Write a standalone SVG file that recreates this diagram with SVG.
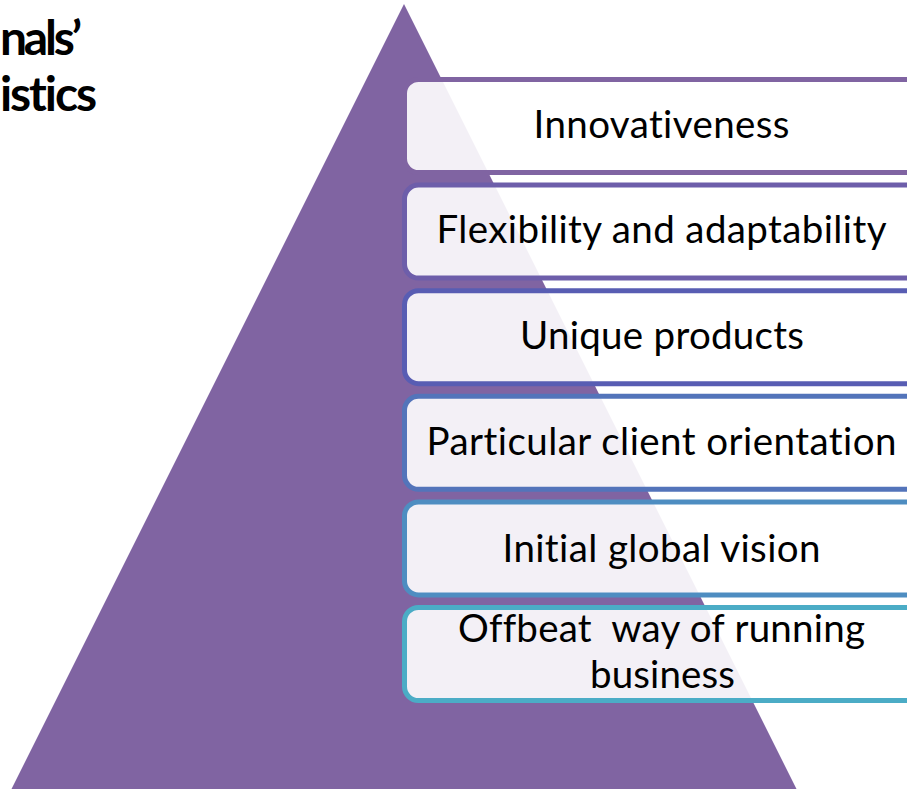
<svg xmlns="http://www.w3.org/2000/svg" width="907" height="789" viewBox="0 0 907 789">
  <style>
    .title { font-family: Lato, "Liberation Sans", sans-serif; font-weight: bold; font-size: 48px; fill: #000; font-variant-ligatures: none; }
    .box { fill: #ffffff; fill-opacity: 0.9; stroke-width: 5; }
    .label { font-family: Lato, "Liberation Sans", sans-serif; font-size: 38.5px; fill: #000; text-anchor: middle; font-variant-ligatures: none; }
  </style>

  <rect width="907" height="789" fill="#ffffff"/>

  <!-- heading, partly outside the frame on the left -->
  <g id="heading">
    <text class="title" x="0" y="55" textLength="82">nals’</text>
    <text class="title" x="0" y="111" textLength="97">istics</text>
  </g>

  <!-- pyramid behind the list -->
  <g id="pyramid">
    <polygon points="404,4 9,794 799,794" fill="#8064a2"/>
  </g>

  <!-- characteristic boxes, top to bottom -->
  <g id="innovativeness">
    <rect class="box" x="404.5" y="79.5" width="520" height="93" rx="14" stroke="#8064a2"/>
    <text class="label" x="661.5" y="138.3" textLength="256">Innovativeness</text>
  </g>
  <g id="flexibility">
    <rect class="box" x="404.5" y="185.1" width="520" height="93" rx="14" stroke="#6d5eaa"/>
    <text class="label" x="661.5" y="243.3" textLength="450">Flexibility and adaptability</text>
  </g>
  <g id="unique-products">
    <rect class="box" x="404.5" y="290.7" width="520" height="93" rx="14" stroke="#585db3"/>
    <text class="label" x="662" y="349.3" textLength="284">Unique products</text>
  </g>
  <g id="client-orientation">
    <rect class="box" x="404.5" y="396.3" width="520" height="93" rx="14" stroke="#5374ba"/>
    <text class="label" x="661.5" y="455" textLength="470">Particular client orientation</text>
  </g>
  <g id="global-vision">
    <rect class="box" x="404.5" y="501.9" width="520" height="93" rx="14" stroke="#4e8dc1"/>
    <text class="label" x="661.5" y="561.7" textLength="318">Initial global vision</text>
  </g>
  <g id="offbeat-business">
    <rect class="box" x="404.5" y="607.5" width="520" height="93" rx="14" stroke="#4bacc6"/>
    <text class="label" x="661.5" y="641.7" textLength="407" xml:space="preserve">Offbeat  way of running</text>
    <text class="label" x="662.5" y="688.3" textLength="145">business</text>
  </g>
</svg>
